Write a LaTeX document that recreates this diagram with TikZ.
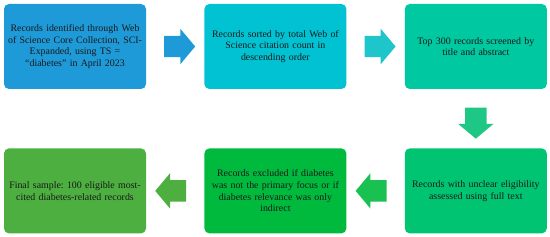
\documentclass[tikz,border=0pt]{standalone}
\usepackage{fontspec}
\setmainfont{Liberation Serif}
\usetikzlibrary{shapes.arrows,positioning,calc}
\definecolor{StepBlue}{HTML}{1E9AD8}
\definecolor{StepCyan}{HTML}{00C2D2}
\definecolor{StepTeal}{HTML}{00C8A0}
\definecolor{StepMint}{HTML}{00C471}
\definecolor{StepGreen}{HTML}{00BA3E}
\definecolor{StepLeaf}{HTML}{4CAF40}
\definecolor{ArrowCyan}{HTML}{1EC6CC}
\definecolor{ArrowMint}{HTML}{1EC884}
\frenchspacing

\begin{document}
\begin{tikzpicture}[x=1pt,y=1pt,node distance=59pt and 58pt,
  stepbox/.style={rounded corners=5pt,minimum width=142pt,minimum height=85pt,text width=136pt,align=center,inner sep=0pt,font=\fontsize{9.9}{11.6}\selectfont,text=black!90},
  flowarrow/.style={single arrow,single arrow head extend=7pt,single arrow tip angle=100,inner xsep=0pt,inner ysep=10.5pt,minimum height=31pt}]
  \useasboundingbox (0,0) rectangle (550,-237);
  % top row, left to right
  \node[stepbox,fill=StepBlue] (s1) at (75,-46.5) {Records identified through Web\\of Science Core Collection, SCI-\\Expanded, using TS =\\“diabetes” in April 2023};
  \node[stepbox,fill=StepCyan,right=of s1] (s2) {Records sorted by total Web of\\Science citation count in\\descending order};
  \node[stepbox,fill=StepTeal,right=of s2] (s3) {Top 300 records screened by\\title and abstract};
  % bottom row, right to left
  \node[stepbox,fill=StepMint,below=of s3] (s4) {Records with unclear eligibility\\assessed using full text};
  \node[stepbox,fill=StepGreen,left=of s4] (s5) {Records excluded if diabetes\\was not the primary focus or if\\diabetes relevance was only\\indirect};
  \node[stepbox,fill=StepLeaf,left=of s5] (s6) {Final sample: 100 eligible most-\\cited diabetes-related records};
  % block arrows
  \node[flowarrow,fill=StepBlue] (a1) at ($(s1.east)!0.5!(s2.west)$) {};
  \node[flowarrow,fill=ArrowCyan] (a2) at ($(s2.east)!0.5!(s3.west)$) {};
  \node[flowarrow,fill=ArrowMint,shape border rotate=270,inner xsep=10.5pt,inner ysep=0pt] (a3) at ($(s3.south)!0.5!(s4.north)$) {};
  \node[flowarrow,fill=StepGreen!90!white,shape border rotate=180] (a4) at ($(s4.west)!0.5!(s5.east)$) {};
  \node[flowarrow,fill=StepLeaf,shape border rotate=180] (a5) at ($(s5.west)!0.5!(s6.east)$) {};
\end{tikzpicture}
\end{document}
